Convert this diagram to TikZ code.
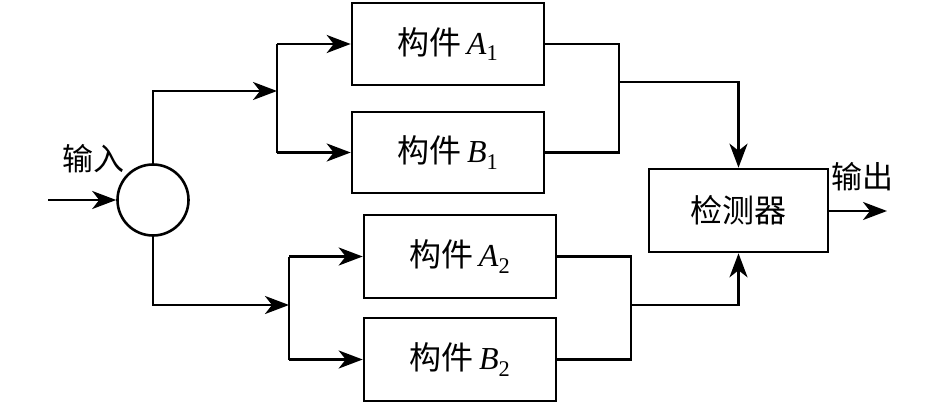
\documentclass[tikz,border=0pt]{standalone}
\usepackage{fontspec}
\setmainfont{Liberation Serif}
\newfontfamily\cjk{Noto Sans CJK SC}
\usetikzlibrary{arrows.meta}
\tikzset{
  blk/.style={draw, line width=2.6pt, minimum width=192pt, minimum height=82pt, inner sep=0pt, font=\fontsize{32}{38}\selectfont},
  wire/.style={line width=2.6pt},
  arr/.style={wire, -{Stealth[length=24pt,width=18pt,inset=7pt]}},
  lbl/.style={inner sep=0pt, font=\fontsize{31}{36}\selectfont\cjk},
}
\newcommand{\gj}[2]{{\cjk 构件}\,\textit{#1}\textsubscript{#2}}
\begin{document}
\begin{tikzpicture}[x=1pt,y=-1pt]
\useasboundingbox (0,0) rectangle (946,404);
\node[draw, circle, line width=2.6pt, minimum size=71pt, inner sep=0pt] (c) at (153,200) {};
\coordinate (in) at (48,200);
\node[lbl] (inl) at (93,159) {输入};
\node[blk] (a1) at (448,44) {\gj{A}{1}};
\node[blk, minimum height=81pt] (b1) at (448,152.5) {\gj{B}{1}};
\node[blk, minimum height=83pt] (a2) at (460,256.5) {\gj{A}{2}};
\node[blk, minimum height=83pt] (b2) at (460,359.5) {\gj{B}{2}};
\node[blk, minimum width=179pt, minimum height=83pt, font=\fontsize{32}{38}\selectfont\cjk] (det) at (738.5,210.5) {检测器};
\coordinate (out) at (887,211);
\node[lbl] (outl) at (862,177) {输出};
% split points
\coordinate (s1) at (277,91);
\coordinate (s2) at (289,305);
\coordinate (m1) at (619,82);
\coordinate (m2) at (631,305);
% input
\draw[arr] (in) -- (c.west);
\draw[arr] (c.north) |- (s1);
\draw[arr] (c.south) |- (s2);
\draw[wire] (s1 |- a1) -- (s1 |- b1);
\draw[wire] (s2 |- a2) -- (s2 |- b2);
\draw[arr] (s1 |- a1) -- (a1.west);
\draw[arr] (s1 |- b1) -- (b1.west);
\draw[arr] (s2 |- a2) -- (a2.west);
\draw[arr] (s2 |- b2) -- (b2.west);
% merges
\draw[wire] (a1.east) -| (m1 |- b1) -- (b1.east);
\draw[wire] (a2.east) -| (m2 |- b2) -- (b2.east);
\draw[arr] (m1) -| (det.north);
\draw[arr] (m2) -| (det.south);
\draw[arr] (det.east |- out) -- (out);
\end{tikzpicture}
\end{document}
